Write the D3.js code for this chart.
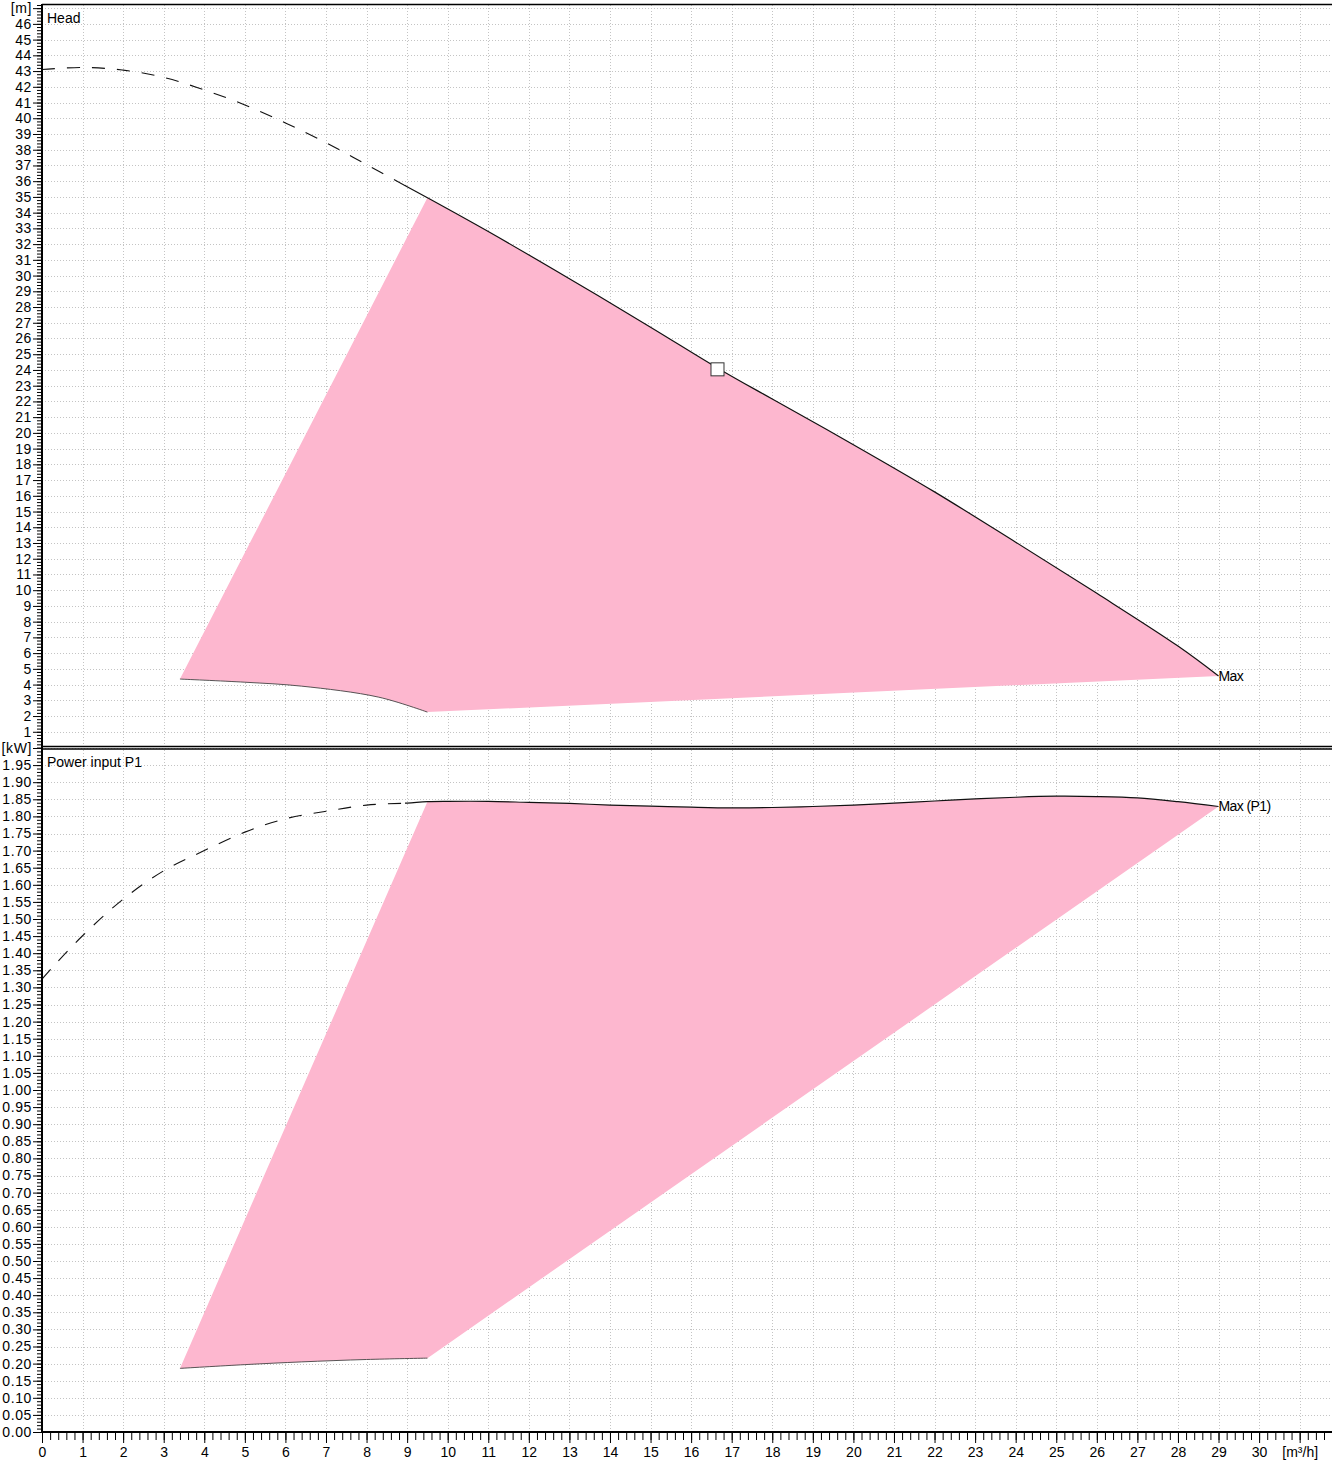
<!DOCTYPE html>
<html>
<head>
<meta charset="utf-8">
<script src="https://cdnjs.cloudflare.com/ajax/libs/d3/7.8.5/d3.min.js"></script>
<style>
    body { margin: 0; background: #fff; }
    svg text { font-family: "Liberation Sans", Arial, sans-serif; font-size: 14px; fill: #000; }
</style>
</head>
<body>
<div class="svg-container"></div>
<script>
// Head curve (Q in m3/h, H in m)
const headFlow   = [0, 1, 2, 3, 4, 5, 6, 7, 8, 9, 9.5, 11, 13, 15, 16.7, 18, 20, 22, 24, 26, 28, 29];
const headValues = [43.1, 43.23, 43.06, 42.6, 41.8, 40.85, 39.7, 38.45, 37.05, 35.65, 34.95, 32.8, 29.8, 26.72, 24.05, 22.15, 19.25, 16.25, 13.05, 9.8, 6.45, 4.55];

// Lower edge of the head operating range
const headLowFlow   = [3.4, 5, 6.4, 8.3, 9.5];
const headLowValues = [4.35, 4.15, 3.9, 3.2, 2.25];

// Power curve (P1 in kW)
const powerFlow   = [0, 0.33, 1, 2, 3, 4, 5, 6, 7, 8, 9, 9.5, 10, 11, 12, 13, 14, 15, 16, 17, 18, 19, 20, 21, 22, 23, 24, 25, 26, 27, 28, 29];
const powerValues = [1.324, 1.368, 1.451, 1.558, 1.641, 1.70, 1.754, 1.793, 1.815, 1.833, 1.839, 1.843, 1.844, 1.844, 1.841, 1.838, 1.833, 1.830, 1.827, 1.825, 1.826, 1.829, 1.833, 1.839, 1.845, 1.851, 1.856, 1.859, 1.858, 1.854, 1.843, 1.829];

// Lower edge of the power operating range
const powerLowFlow   = [3.4, 5, 6.4, 8, 9.5];
const powerLowValues = [0.186, 0.197, 0.205, 0.212, 0.216];

// Curve split / range limits
const dashedUntil = 8.95;
const rangeStart  = 9.5;
const dutyPoint   = { flow: 16.65, head: 24.04 };

// Tick labels
const xTicks      = d3.range(0, 32);
const headTicks   = d3.range(0, 48);
const powerTicks  = d3.range(0, 41).map(i => +(i * 0.05).toFixed(2));

/**
 * Pump Chart
 *      draws the head panel and the power panel sharing the flow axis
 */
const pumpChart = (() => {
    const SCREEN = Object.assign({}, { WIDTH: 1332, HEIGHT: 1461 });
    const LEFT = 42, RIGHT = 1332;
    const PINK = '#fdb7cf';
    const GRID = '#c4c4c4';

    const x = d3.scaleLinear().domain([0, 31.75]).range([LEFT, LEFT + 31.75 * 40.57]);
    const yHead = d3.scaleLinear().domain([0, 47.2]).range([747.5, 5]);
    const yPower = d3.scaleLinear().domain([0, 2]).range([1432, 748]);

    const zip = (a, b) => a.map((q, i) => [q, b[i]]);

    const initSVG = () => {
        let svg = d3.select('.svg-container').append('svg')
                    .attr('width', SCREEN.WIDTH)
                    .attr('height', SCREEN.HEIGHT);

        // clip paths used to split each curve into dashed / solid parts
        let defs = svg.append('defs');
        defs.append('clipPath').attr('id', 'clip-dashed')
            .append('rect').attr('x', 0).attr('y', 0)
            .attr('width', x(dashedUntil)).attr('height', SCREEN.HEIGHT);
        defs.append('clipPath').attr('id', 'clip-solid')
            .append('rect').attr('x', x(dashedUntil)).attr('y', 0)
            .attr('width', SCREEN.WIDTH).attr('height', SCREEN.HEIGHT);
        return svg;
    };

    /**
     * Dotted grid for one panel
     */
    const drawGrid = (svg, y, values, top, bottom) => {
        let g = svg.append('g').attr('stroke', GRID).attr('stroke-dasharray', '1,2').attr('stroke-width', 1);
        g.selectAll('.h')
         .data(values.filter(v => v > 0))
         .enter()
         .append('line')
         .attr('x1', LEFT).attr('x2', RIGHT)
         .attr('y1', d => Math.round(y(d)) + 0.5)
         .attr('y2', d => Math.round(y(d)) + 0.5);
        g.selectAll('.v')
         .data(xTicks.filter(v => v > 0))
         .enter()
         .append('line')
         .attr('y1', top).attr('y2', bottom)
         .attr('x1', d => Math.round(x(d)) + 0.5)
         .attr('x2', d => Math.round(x(d)) + 0.5);
    };

    /**
     * Operating range (pink) + curve, dashed left of dashedUntil
     */
    const drawPanel = (svg, y, flow, values, lowFlow, lowValues, label) => {
        let curve = zip(flow, values);
        let upper = curve.filter(d => d[0] >= rangeStart);
        let lower = zip(lowFlow, lowValues);
        let line = d3.line().x(d => x(d[0])).y(d => y(d[1])).curve(d3.curveCatmullRom.alpha(0.5));

        // area: left edge, top curve, straight bottom edge, lower curve back
        let back = lower.slice().reverse();
        let d = 'M' + x(lower[0][0]) + ',' + y(lower[0][1]) +
                line(upper).replace(/^M/, 'L') +
                line(back).replace(/^M/, 'L') + 'Z';
        svg.append('path')
           .attr('d', d)
           .attr('fill', PINK);

        svg.append('path')
           .attr('d', line(lower))
           .attr('fill', 'none')
           .attr('stroke', '#444')
           .attr('stroke-width', 0.9);

        svg.append('path')
           .attr('d', line(curve))
           .attr('clip-path', 'url(#clip-dashed)')
           .attr('fill', 'none')
           .attr('stroke', '#111')
           .attr('stroke-width', 1.1)
           .attr('stroke-dasharray', '13,12');

        svg.append('path')
           .attr('d', line(curve))
           .attr('clip-path', 'url(#clip-solid)')
           .attr('fill', 'none')
           .attr('stroke', '#111')
           .attr('stroke-width', 1.2);

        let last = curve[curve.length - 1];
        svg.append('text')
           .attr('x', x(last[0]))
           .attr('y', y(last[1]) + 5)
           .style('letter-spacing', '-0.6px')
           .text(label);
    };

    /**
     * Y axis for one panel: major ticks with labels, minor ticks
     */
    const drawYAxis = (svg, y, majors, minors, fmt) => {
        svg.append('g')
           .attr('transform', `translate(${LEFT},0)`)
           .call(d3.axisLeft(y).tickValues(minors).tickSize(5).tickFormat(''))
           .call(g => g.select('.domain').remove())
           .call(g => g.selectAll('line').attr('stroke', '#000'));
        svg.append('g')
           .attr('transform', `translate(${LEFT},0)`)
           .call(d3.axisLeft(y).tickValues(majors).tickSize(9).tickPadding(1).tickFormat(fmt))
           .call(g => g.select('.domain').remove())
           .call(g => g.selectAll('line').attr('stroke', '#000'))
           .call(g => g.selectAll('text')
                       .attr('font-family', null).attr('font-size', null)
                       .style('letter-spacing', '0.6px'));
    };

    const drawXAxis = (svg) => {
        let minors = d3.range(0, 159).map(i => +(i * 0.2).toFixed(1));
        svg.append('g')
           .attr('transform', 'translate(0,1432)')
           .call(d3.axisBottom(x).tickValues(minors).tickSize(8).tickFormat(''))
           .call(g => g.select('.domain').remove())
           .call(g => g.selectAll('line').attr('stroke', '#000'));
        svg.append('g')
           .attr('transform', 'translate(0,1432)')
           .call(d3.axisBottom(x).tickValues(xTicks).tickSize(11).tickPadding(4)
                   .tickFormat(d => d === 31 ? '[m³/h]' : d))
           .call(g => g.select('.domain').remove())
           .call(g => g.selectAll('line').attr('stroke', '#000'))
           .call(g => g.selectAll('text').attr('font-family', null).attr('font-size', null));
    };

    const drawFrame = (svg) => {
        let g = svg.append('g').attr('stroke', '#000').attr('fill', 'none');
        g.append('line').attr('x1', LEFT).attr('x2', RIGHT).attr('y1', 4.5).attr('y2', 4.5).attr('stroke-width', 1.5);
        g.append('line').attr('x1', LEFT).attr('x2', RIGHT).attr('y1', 746.5).attr('y2', 746.5).attr('stroke-width', 1.3);
        g.append('line').attr('x1', LEFT).attr('x2', RIGHT).attr('y1', 749).attr('y2', 749).attr('stroke-width', 1.3);
        g.append('line').attr('x1', LEFT).attr('x2', RIGHT).attr('y1', 1432).attr('y2', 1432).attr('stroke-width', 2);
        g.append('line').attr('x1', LEFT).attr('x2', LEFT).attr('y1', 4).attr('y2', 1433).attr('stroke-width', 2);
    };

    const init = () => {
        let svg = initSVG();

        drawGrid(svg, yHead, headTicks, 5, 746);
        drawGrid(svg, yPower, powerTicks, 750, 1432);

        drawPanel(svg, yHead, headFlow, headValues, headLowFlow, headLowValues, 'Max');
        drawPanel(svg, yPower, powerFlow, powerValues, powerLowFlow, powerLowValues, 'Max (P1)');

        // duty point marker
        svg.append('rect')
           .attr('x', x(dutyPoint.flow) - 6.5)
           .attr('y', yHead(dutyPoint.head) - 6.5)
           .attr('width', 13).attr('height', 13)
           .attr('fill', '#fff')
           .attr('stroke', '#333')
           .attr('stroke-width', 1);

        drawYAxis(svg, yHead, headTicks.filter(d => d > 0),
                  d3.range(0, 237).map(i => +(i * 0.2).toFixed(1)),
                  d => d === 47 ? '[m]' : d);
        drawYAxis(svg, yPower, powerTicks,
                  d3.range(0, 201).map(i => +(i * 0.01).toFixed(2)),
                  d => d === 2 ? '[kW]' : d.toFixed(2));
        drawXAxis(svg);
        drawFrame(svg);

        // panel titles
        svg.append('text').attr('x', 47).attr('y', 23).text('Head');
        svg.append('text').attr('x', 47).attr('y', 767).text('Power input P1');
    };

    return { init: init };
})();

pumpChart.init();
</script>
</body>
</html>
